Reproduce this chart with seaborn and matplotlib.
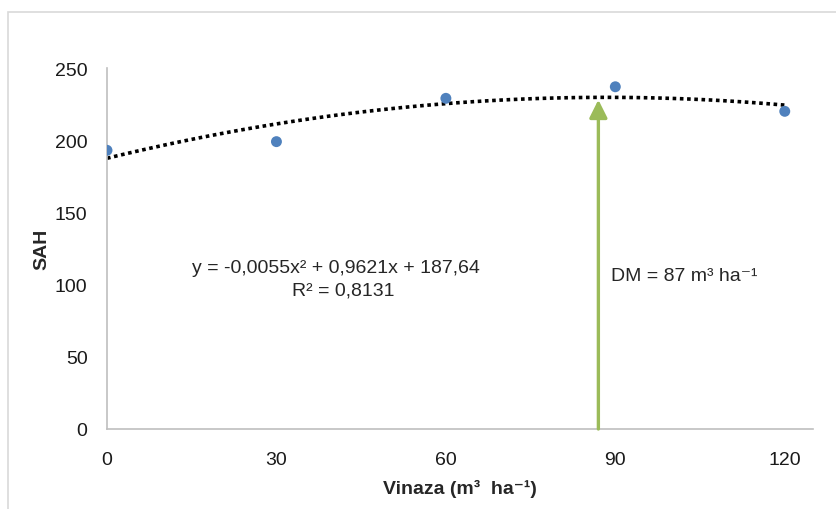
import matplotlib
matplotlib.use("Agg")
import matplotlib.pyplot as plt
from matplotlib.patches import Rectangle
import seaborn as sns

# dados
vinaza = [0, 30, 60, 90, 120]
sah = [193, 199, 229, 237, 220]
dm = 87
dm_top = 228
eq_text = "y = -0,0055x² + 0,9621x + 187,64"
r2_text = "R² = 0,8131"
dm_text = "DM = 87 m³ ha⁻¹"
x_ticks = [0, 30, 60, 90, 120]
y_ticks = [0, 50, 100, 150, 200, 250]

sns.set_theme(style="white")
plt.rcParams["font.family"] = ["Liberation Sans", "DejaVu Sans"]

fig = plt.figure(figsize=(8.37, 5.10), dpi=100)
ax = fig.add_axes([107 / 837, 80 / 510, (813 - 107) / 837, (430 - 69) / 510])

# borda da área do gráfico (cortada à direita e embaixo)
fig.patches.append(Rectangle((8 / 837, -0.1), 1.2, 1.1 - 13 / 510,
                             transform=fig.transFigure, fill=False,
                             edgecolor="#D9D9D9", linewidth=1.2))

# linha de tendência polinomial (ordem 2)
sns.regplot(x=vinaza, y=sah, order=2, ci=None, scatter=False, ax=ax,
            line_kws=dict(color="black", linestyle=(0, (1, 1)), linewidth=2.6))
sns.scatterplot(x=vinaza, y=sah, ax=ax, color="#4F81BD", s=62,
                edgecolor="none", zorder=5)

# seta da dose de máxima
ax.annotate("", xy=(dm, dm_top), xytext=(dm, 0),
            arrowprops=dict(arrowstyle="-|>,head_length=0.9,head_width=0.45",
                            color="#9BBB59", linewidth=2.4, shrinkA=0, shrinkB=0))

ax.text(15.0, 112, eq_text, ha="left", va="center", fontsize=14)
ax.text(32.7, 96.5, r2_text, ha="left", va="center", fontsize=14)
ax.text(89.3, 106, dm_text, ha="left", va="center", fontsize=14)

ax.set_xlim(0, 125)
ax.set_ylim(0, 250)
ax.set_xticks(x_ticks)
ax.set_yticks(y_ticks)
ax.tick_params(axis="both", length=0, labelsize=14, colors="#1a1a1a", pad=14)
ax.tick_params(axis="x", pad=16)

ax.set_xlabel("Vinaza (m³  ha⁻¹)", fontsize=14, fontweight="bold", labelpad=8)
ax.set_ylabel("SAH", fontsize=14, fontweight="bold", labelpad=3)

sns.despine(ax=ax)
for side in ["left", "bottom"]:
    ax.spines[side].set_color("#BFBFBF")
    ax.spines[side].set_linewidth(1.2)

plt.savefig("out.png", dpi=100)
